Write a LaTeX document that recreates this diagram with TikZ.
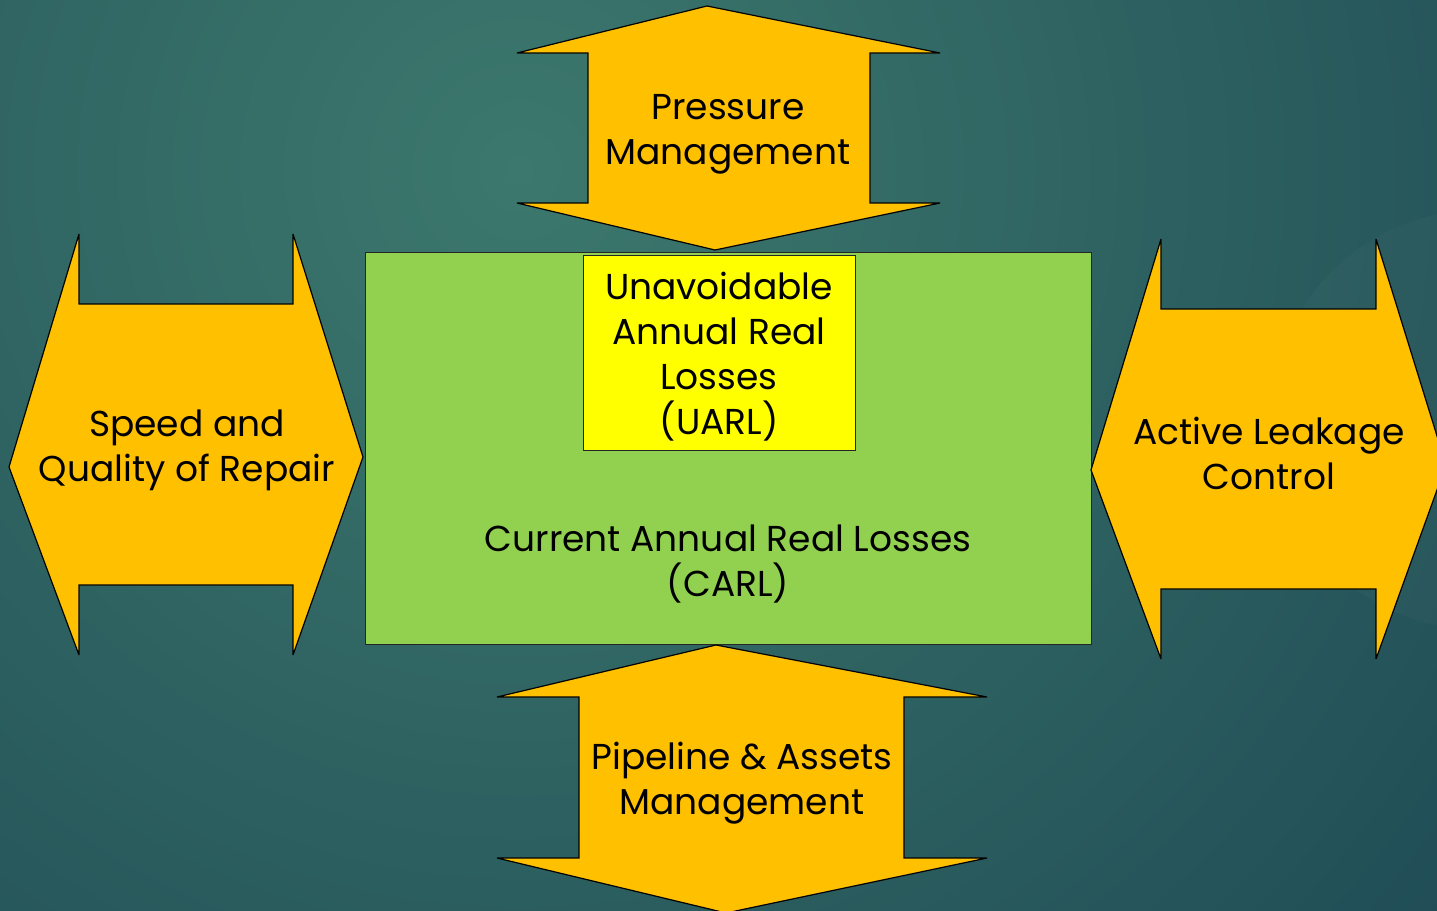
\documentclass[tikz,border=0pt]{standalone}
\usepackage{fontspec}
\setmainfont{Poppins}

\definecolor{bgdark}{HTML}{1F4B55}
\definecolor{bglight}{HTML}{3C786D}
\definecolor{arroworange}{HTML}{FFC000}
\definecolor{carlgreen}{HTML}{92D050}
\definecolor{uarlyellow}{HTML}{FFFF00}

\begin{document}
\begin{tikzpicture}[x=0.5pt,y=-0.5pt,
    bigarrow/.style={
      % The shape:
      fill=arroworange,line join=miter,miter limit=3,
      % The rest
      draw=black,line width=0.6pt},
    lossbox/.style={draw=black!85,line width=0.5pt},
    caption/.style={align=center,inner sep=0pt,text=black,
      font=\fontsize{18}{22.5}\selectfont}]
  \useasboundingbox (0,0) rectangle (1437,911);
  % background
  \begin{scope}
    \clip (0,0) rectangle (1437,911);
    \fill[bgdark] (0,0) rectangle (1437,911);
    \shade[inner color=bglight,outer color=bgdark] (520,170) circle (1250);
    \fill[white,opacity=0.02] (1480,420) circle (210);
  \end{scope}
  % losses
  \draw[lossbox,fill=carlgreen] (365,252) rectangle (1091,644);
  \draw[lossbox,fill=uarlyellow] (583,255) rectangle (855,450);
  % the four arrows
  \draw[bigarrow] (707,6) -- (940,53) -- (870,53) -- (870,203) -- (940,203)
    -- (715,250) -- (517,203) -- (588,203) -- (588,53) -- (517,53) -- cycle;
  \draw[bigarrow] (9,467) -- (79,234) -- (79,304) -- (293,304) -- (293,234)
    -- (363,457) -- (293,655) -- (293,585) -- (79,585) -- (79,655) -- cycle;
  \draw[bigarrow] (1091,470) -- (1161,239) -- (1161,309) -- (1376,309) -- (1376,239)
    -- (1446,465) -- (1376,659) -- (1376,589) -- (1161,589) -- (1161,659) -- cycle;
  \draw[bigarrow] (716,645) -- (987,697) -- (904,697) -- (904,858) -- (987,858)
    -- (726,913) -- (497,858) -- (579,858) -- (579,697) -- (497,697) -- cycle;
  % texts
  \node[caption] (pressure) at (728,134) {Pressure\\Management};
  \node[caption] (uarl) at (719,357) {Unavoidable\\Annual Real\\Losses\\(UARL)};
  \node[caption] (repair) at (187,450) {Speed and\\Quality of Repair};
  \node[caption] (leakage) at (1269,453) {Active Leakage\\Control};
  \node[caption] (carl) at (728,564) {Current Annual Real Losses\\(CARL)};
  \node[caption] (assets) at (742,783) {Pipeline \& Assets\\Management};
\end{tikzpicture}
\end{document}
